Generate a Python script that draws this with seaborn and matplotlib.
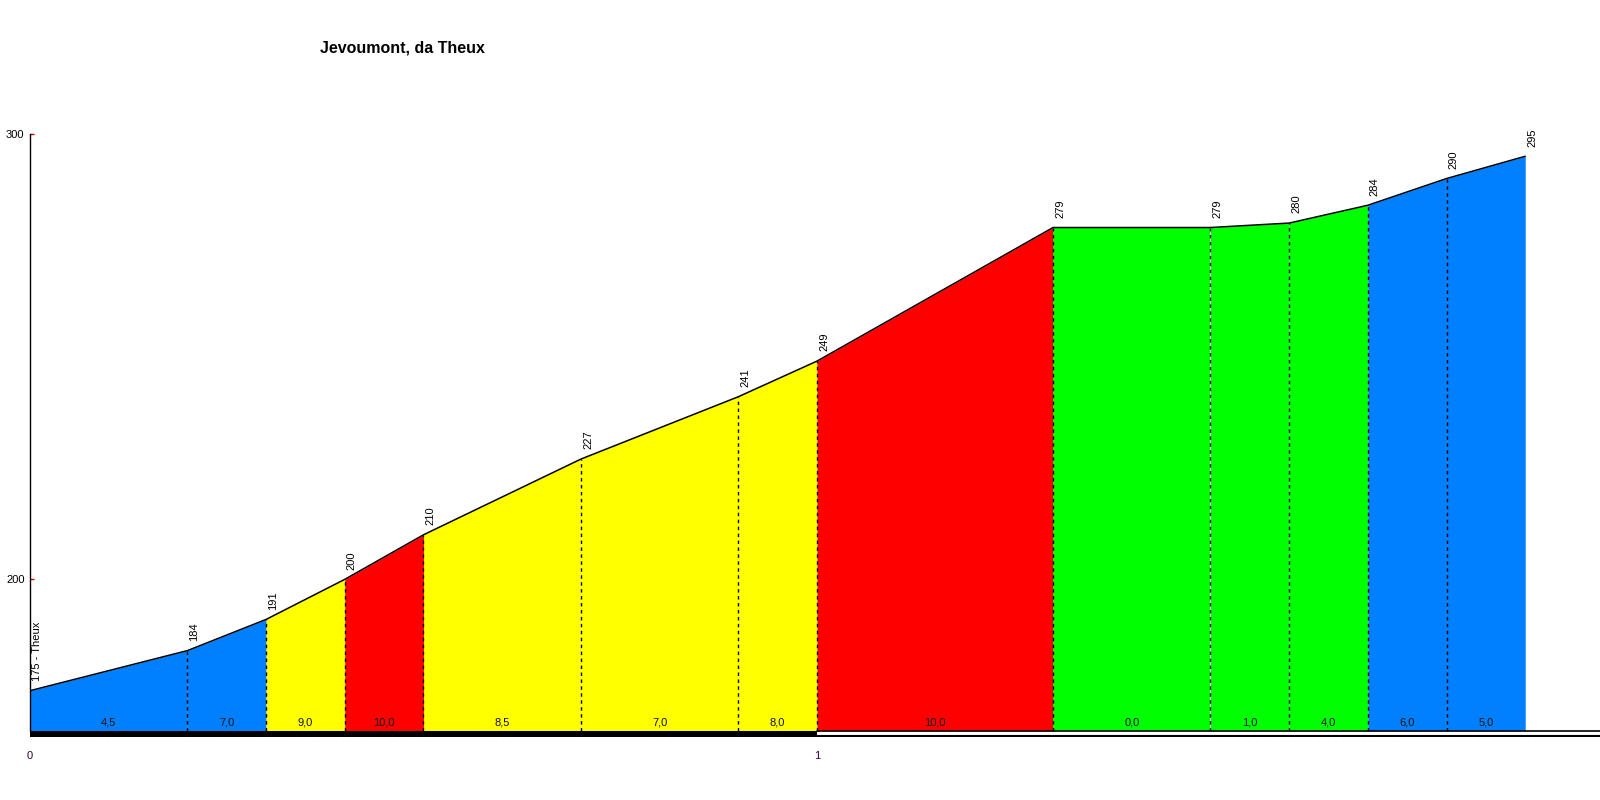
import matplotlib
matplotlib.use("Agg")
import matplotlib.pyplot as plt
import seaborn as sns
import pandas as pd

# Data
dist_km = [0, 0.2, 0.3, 0.4, 0.5, 0.7, 0.9, 1.0, 1.3, 1.5, 1.6, 1.7, 1.8, 1.9]
elevation = [175, 184, 191, 200, 210, 227, 241, 249, 279, 279, 280, 284, 290, 295]
point_labels = ["175 - Theux", "184", "191", "200", "210", "227", "241", "249",
                "279", "279", "280", "284", "290", "295"]
gradients = ["4,5", "7,0", "9,0", "10,0", "8,5", "7,0", "8,0", "10,0",
             "0,0", "1,0", "4,0", "6,0", "5,0"]
seg_colors = ["#0080FF", "#0080FF", "#FFFF00", "#FF0000", "#FFFF00", "#FFFF00",
              "#FFFF00", "#FF0000", "#00FF00", "#00FF00", "#00FF00", "#0080FF", "#0080FF"]
title = "Jevoumont, da Theux"
y_ticks = [200, 300]
x_ticks = [0, 1]

sns.set_theme(style="white")
plt.rcParams['font.family'] = ['Liberation Sans', 'DejaVu Sans']
plt.rcParams['text.color'] = 'black'

df = pd.DataFrame({"km": dist_km, "elev": elevation})

fig = plt.figure(figsize=(16, 8), dpi=100)
ax = fig.add_axes([30/1600, (800-737)/800, 1 - 30/1600, (737-134)/800])

base = 166.0
ylo = 164.6
ax.set_xlim(0, 1.995)
ax.set_ylim(ylo, 300)

for i in range(len(dist_km) - 1):
    x0, x1 = dist_km[i], dist_km[i+1]
    ax.fill_between([x0, x1], [elevation[i], elevation[i+1]], base,
                    color=seg_colors[i], linewidth=0, zorder=1)
    ax.text((x0 + x1) / 2, base + 0.7, gradients[i], ha="center", va="bottom",
            fontsize=8, color="#111111", zorder=4)

# interior dashed separators
for i in range(1, len(dist_km) - 1):
    ax.plot([dist_km[i], dist_km[i]], [base, elevation[i]], color="black",
            linestyle=(0, (2.5, 2.5)), linewidth=1, zorder=2)

sns.lineplot(data=df, x="km", y="elev", ax=ax, color="black", linewidth=1.1,
             zorder=3, legend=False)

for x, y, lab in zip(dist_km, elevation, point_labels):
    ax.annotate(lab, (x, y), xytext=(1.5, 7), textcoords="offset points",
                rotation=90, ha="left", va="bottom", fontsize=8, color="black")

# km bar
ax.fill_between([0, 1], ylo, base, color="black", linewidth=0, zorder=3)
ax.plot([1, 1.995], [base, base], color="black", linewidth=1.2, zorder=3)
ax.plot([0, 1.995], [ylo + 0.15, ylo + 0.15], color="black", linewidth=1.5, zorder=3)

ax.set_xlabel("")
ax.set_ylabel("")
for s in ["top", "right", "bottom"]:
    ax.spines[s].set_visible(False)
ax.spines["left"].set_color("black")
ax.spines["left"].set_linewidth(1)
ax.spines["left"].set_bounds(base, 300)

ax.set_yticks(y_ticks)
ax.set_yticklabels([str(v) for v in y_ticks], fontsize=8, color="black")
ax.tick_params(axis="y", direction="in", length=3, color="#cc0000", width=1, pad=4,
               left=True)
ax.set_xticks(x_ticks)
ax.set_xticklabels([str(v) for v in x_ticks], fontsize=8, color="#330033")
ax.tick_params(axis="x", length=0, pad=10)
ax.grid(False)

fig.text(402/1600, 1 - 48/800, title, ha="center", va="center",
         fontsize=11.5, fontweight="bold", color="black")

fig.savefig("out.png", dpi=100)
